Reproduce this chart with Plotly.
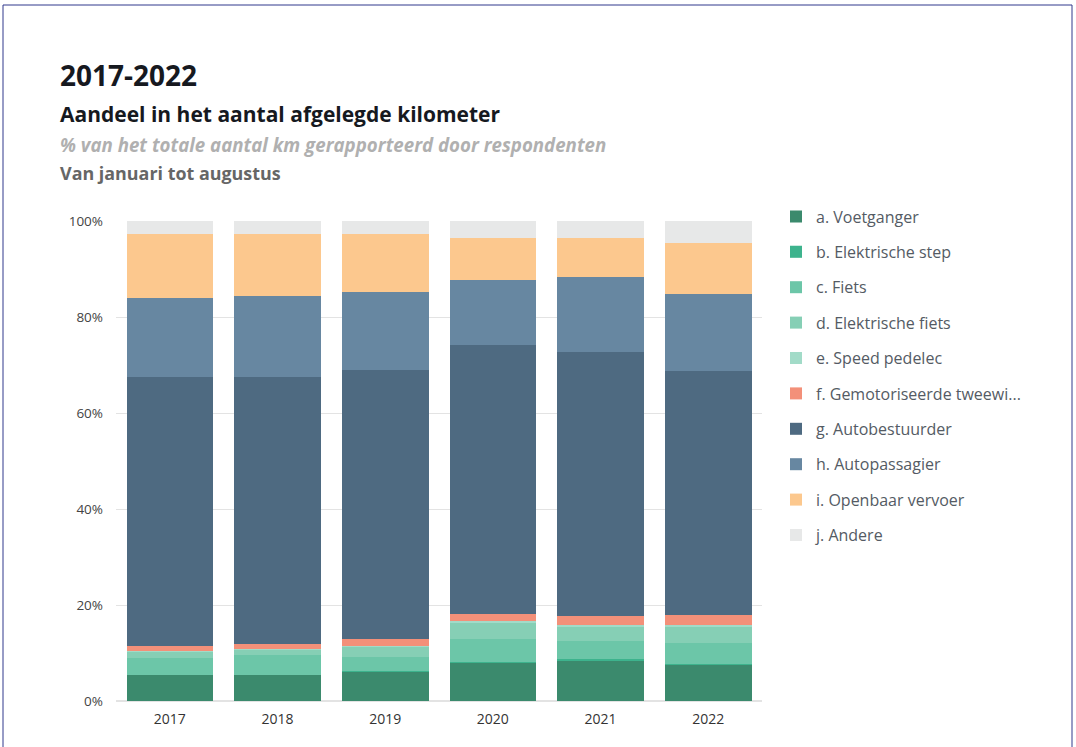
import plotly.graph_objects as go

years = ["2017", "2018", "2019", "2020", "2021", "2022"]

voetganger = [5.5, 5.5, 6.1, 8.0, 8.5, 7.5]
elektrische_step = [0.0, 0.0, 0.1, 0.2, 0.3, 0.3]
fiets = [3.4, 4.1, 2.9, 4.7, 3.6, 4.2]
elektrische_fiets = [1.4, 1.2, 2.3, 3.5, 3.2, 3.5]
speed_pedelec = [0.1, 0.05, 0.1, 0.3, 0.3, 0.4]
gemotoriseerd = [1.1, 1.05, 1.4, 1.45, 1.75, 2.05]
autobestuurder = [56.0, 55.6, 56.1, 56.05, 55.1, 50.75]
autopassagier = [16.4, 16.8, 16.2, 13.6, 15.65, 16.15]
openbaar_vervoer = [13.4, 13.0, 12.1, 8.6, 8.0, 10.5]
andere = [2.7, 2.7, 2.7, 3.6, 3.6, 4.65]

series_names = [
    "a. Voetganger",
    "b. Elektrische step",
    "c. Fiets",
    "d. Elektrische fiets",
    "e. Speed pedelec",
    "f. Gemotoriseerde tweewi...",
    "g. Autobestuurder",
    "h. Autopassagier",
    "i. Openbaar vervoer",
    "j. Andere",
]
series_values = [voetganger, elektrische_step, fiets, elektrische_fiets, speed_pedelec,
                 gemotoriseerd, autobestuurder, autopassagier, openbaar_vervoer, andere]
colors = ["#3b8a6d", "#3db38d", "#6cc6a8", "#86cfb5", "#a2dbc8",
          "#f39079", "#4e6a81", "#6787a1", "#fcc88e", "#e7e8e8"]

y_tick_values = [0, 20, 40, 60, 80, 100]
y_tick_labels = ["0%", "20%", "40%", "60%", "80%", "100%"]

fig = go.Figure()
for i, (name, vals, col) in enumerate(zip(series_names, series_values, colors)):
    fig.add_trace(go.Bar(x=years, y=vals, name=name, marker_color=col,
                         marker_line_width=0, legendgroup=f"g{i}"))

# plot area in pixels
L, R, T, B = 116, 762, 221, 701
W, H = R - L, B - T

def px(xp):
    return (xp - L) / W

def py(yp):
    return (B - yp) / H

FONT = "Open Sans"

annotations = [
    dict(text="<b>2017-2022</b>", x=px(58), y=py(75), font=dict(size=28, color="#16191f", family=FONT)),
    dict(text="<b>Aandeel in het aantal afgelegde kilometer</b>", x=px(58), y=py(114), font=dict(size=21, color="#16191f", family=FONT)),
    dict(text="<b><i>% van het totale aantal km gerapporteerd door respondenten</i></b>", x=px(58), y=py(144), font=dict(size=18.7, color="#b0b0b0", family=FONT)),
    dict(text="<b>Van januari tot augustus</b>", x=px(58), y=py(173), font=dict(size=17.9, color="#666666", family=FONT)),
]
for a in annotations:
    a.update(xref="paper", yref="paper", xanchor="left", yanchor="middle", showarrow=False)

fig.update_layout(
    width=1076, height=747,
    margin=dict(l=L, r=1076 - R, t=T, b=747 - B, autoexpand=False),
    barmode="stack",
    bargap=0.195,
    paper_bgcolor="white",
    plot_bgcolor="white",
    font=dict(family=FONT, color="#444444", size=12),
    annotations=annotations,
    legend=dict(
        x=px(776), y=py(199.5), xanchor="left", yanchor="top",
        traceorder="grouped", tracegroupgap=11.6,
        font=dict(size=16, color="#545b64", family=FONT),
        bgcolor="rgba(0,0,0,0)",
    ),
    shapes=[dict(type="rect", xref="paper", yref="paper",
                 x0=px(3), x1=px(1072), y0=py(760), y1=py(5),
                 line=dict(color="#30398c", width=1), layer="below")],
    showlegend=True,
)
fig.update_yaxes(range=[0, 100], tickmode="array", tickvals=y_tick_values, ticktext=y_tick_labels,
                 showgrid=True, gridcolor="#e3e3e3", gridwidth=1, zeroline=True,
                 zerolinecolor="#e3e3e3", tickfont=dict(size=13.5, color="#444444"),
                 ticklabelstandoff=12, fixedrange=True)
fig.update_xaxes(tickfont=dict(size=14, color="#333333"), showline=False, ticks="",
                 type="category", ticklabelstandoff=8)

fig.write_html("out.html", config={"displayModeBar": False},
               post_script="document.body.style.margin='0px';")
